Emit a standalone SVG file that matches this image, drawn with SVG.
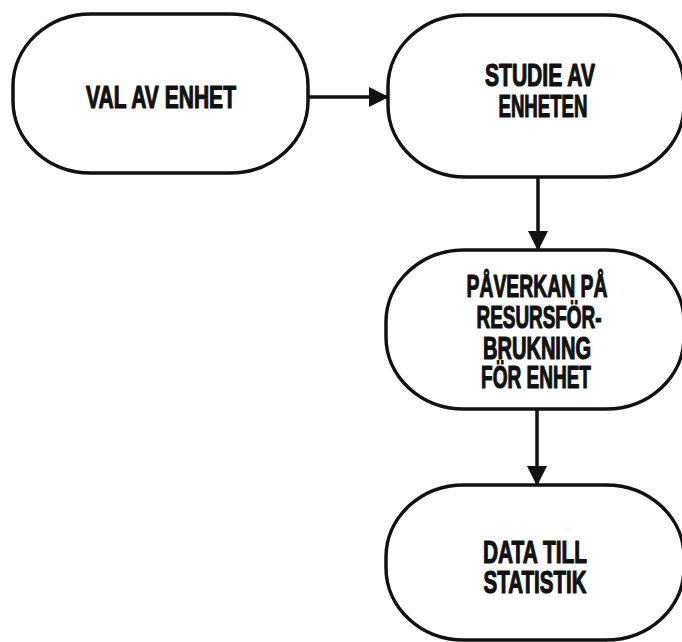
<svg xmlns="http://www.w3.org/2000/svg" width="682" height="642" viewBox="0 0 682 642">
<style>
.box{fill:#fff;stroke:#111;stroke-width:3.5}
.lbl{font-family:"Liberation Sans",Arial,sans-serif;font-weight:bold;font-size:31px;fill:#111;stroke:#111;stroke-width:1.2;stroke-linejoin:round;text-anchor:middle}
.con{stroke:#111;stroke-width:3.5;fill:none}
</style>
<defs>
<marker id="ah" markerUnits="userSpaceOnUse" markerWidth="20" markerHeight="22" refX="19" refY="10" orient="auto">
<path d="M0,0 L20,10 L0,20 Z" fill="#111"/>
</marker>
</defs>
<rect width="682" height="642" fill="#fff"/>
<g id="connectors">
<line class="con" x1="308" y1="97" x2="388" y2="97" marker-end="url(#ah)"/>
<line class="con" x1="538" y1="177" x2="538" y2="250" marker-end="url(#ah)"/>
<line class="con" x1="537" y1="409" x2="537" y2="485" marker-end="url(#ah)"/>
</g>
<g id="n1">
<rect class="box" x="13" y="14" width="295" height="159" rx="78" ry="72"/>
<text class="lbl" x="161" y="108" textLength="150" lengthAdjust="spacingAndGlyphs" font-size="34">VAL AV ENHET</text>
</g>
<g id="n2">
<rect class="box" x="388" y="15" width="296" height="162" rx="78" ry="72"/>
<text class="lbl" x="540" y="86" textLength="110" lengthAdjust="spacingAndGlyphs">STUDIE AV</text>
<text class="lbl" x="543" y="117" textLength="89" lengthAdjust="spacingAndGlyphs">ENHETEN</text>
</g>
<g id="n3">
<rect class="box" x="386" y="250" width="298" height="159" rx="78" ry="72"/>
<text class="lbl" x="537" y="297" textLength="141" lengthAdjust="spacingAndGlyphs" font-size="29">PÅVERKAN PÅ</text>
<text class="lbl" x="539" y="328" textLength="125" lengthAdjust="spacingAndGlyphs" font-size="29">RESURSFÖR-</text>
<text class="lbl" x="537" y="359" textLength="108" lengthAdjust="spacingAndGlyphs" font-size="29">BRUKNING</text>
<text class="lbl" x="536" y="388" textLength="110" lengthAdjust="spacingAndGlyphs" font-size="29">FÖR ENHET</text>
</g>
<g id="n4">
<rect class="box" x="386" y="485" width="298" height="155" rx="78" ry="72"/>
<text class="lbl" x="535" y="563" textLength="104" lengthAdjust="spacingAndGlyphs" font-size="32">DATA TILL</text>
<text class="lbl" x="535" y="593" textLength="103" lengthAdjust="spacingAndGlyphs" font-size="33">STATISTIK</text>
</g>
</svg>
